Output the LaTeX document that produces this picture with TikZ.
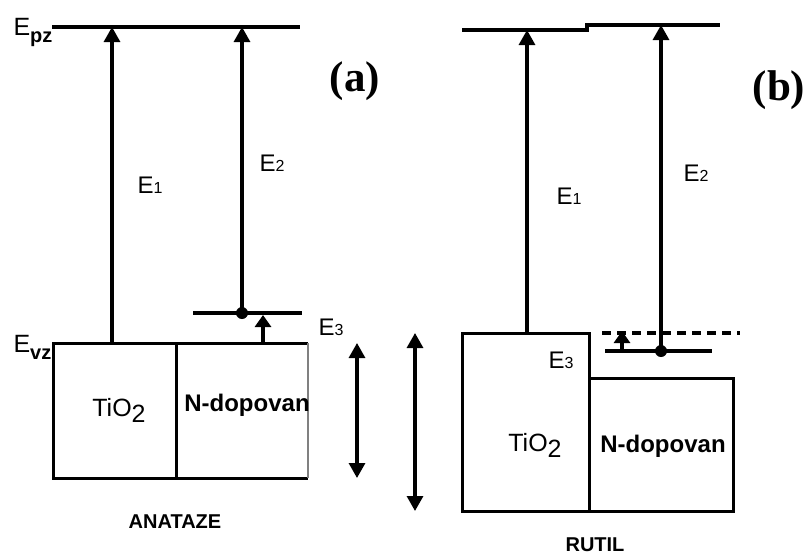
\documentclass[tikz,border=0pt]{standalone}
\usepackage{fontspec}
\setmainfont{Liberation Sans}
\newfontfamily\panelfont{Liberation Serif}
\usetikzlibrary{arrows.meta}

\newcommand{\Elev}[1]{E{\fontsize{16}{16}\selectfont #1}}
\newcommand{\Ebase}[1]{E\raisebox{-7pt}{\fontsize{20}{20}\selectfont\bfseries #1}}

\begin{document}
\begin{tikzpicture}[x=1pt,y=-1pt,>={Triangle[length=15pt,width=16pt]},
		line width=3.1pt]
		\tikzstyle{level}=[line width=3.3pt]
		\tikzstyle{band}=[draw,line width=3pt]
		\tikzstyle{small}=[-{Triangle[length=12pt,width=16pt]}]
		\tikzstyle{lbl}=[inner sep=0pt,font=\fontsize{24}{26}\selectfont]
		\tikzstyle{mat}=[inner sep=0pt,font=\fontsize{25}{27}\selectfont]
		\tikzstyle{dop}=[inner sep=0pt,font=\fontsize{24}{26}\selectfont\bfseries]
		\tikzstyle{phase}=[inner sep=0pt,font=\fontsize{20}{21}\selectfont\bfseries]
		\tikzstyle{tag}=[inner sep=0pt,font=\fontsize{43}{45}\selectfont\panelfont\bfseries]
		
		\useasboundingbox (0,0) rectangle (808,555);
		
		% (a) anataze
		\coordinate (pzl) at (52,27);
		\coordinate (pzr) at (300,27);
		\coordinate (a1t) at (112,27);
		\coordinate (a1b) at (112,343);
		\coordinate (a2t) at (242,27);
		\coordinate (a2b) at (242,313);
		\coordinate (ndl) at (193,313);
		\coordinate (ndr) at (302,313);
		\coordinate (a3b) at (263,343);
		\coordinate (a3t) at (263,315);
		\coordinate (agt) at (357,343);
		\coordinate (agb) at (357,478);
		
		\draw[level] (pzl) -- (pzr);
		\draw[level] (ndl) -- (ndr);
		\draw[band] (53,343) rectangle (176,478);
		\draw[band] (176,343) -- (308,343);
		\draw[band] (176,478) -- (308,478);
		\draw[line width=1.4pt,gray] (308,343) -- (308,478);
		\draw[->] (a1b) -- (a1t);
		\draw[->] (a2b) -- (a2t);
		\draw[small] (a3b) -- (a3t);
		\draw[<->] (agt) -- (agb);
		\fill (a2b) circle (6pt);
		
		\node[lbl,anchor=base west] (epz) at (12,35) {\fontsize{25}{25}\selectfont\Ebase{pz}};
		\node[lbl,anchor=base west] (evz) at (12,352) {\fontsize{25}{25}\selectfont\Ebase{vz}};
		\node[lbl] (ea1) at (150,185) {\Elev{1}};
		\node[lbl] (ea2) at (272,163) {\Elev{2}};
		\node[lbl] (ea3) at (331,327) {\Elev{3}};
		\node[mat] (tia) at (119,410) {TiO\raisebox{-6pt}{2}};
		\node[dop] (nda) at (247,405) {N-dopovan};
		\node[phase] (ana) at (175,522) {ANATAZE};
		\node[tag] (taga) at (355,81) {(a)};
		
		% (b) rutil
		\coordinate (b1t) at (527,30);
		\coordinate (b1b) at (527,333);
		\coordinate (b2t) at (661,25);
		\coordinate (b2b) at (661,351);
		\coordinate (b3b) at (622,351);
		\coordinate (b3t) at (622,331);
		\coordinate (bgt) at (415,333);
		\coordinate (bgb) at (415,511);
		
		\draw[level] (462,30) -- (587,30) -- (587,25) -- (720,25);
		\draw[level,dash pattern=on 9pt off 6pt] (602,333) -- (740,333);
		\draw[level] (605,351) -- (712,351);
		\draw[band] (462,333) rectangle (589,511);
		\draw[band] (589,378) rectangle (733,511);
		\draw[->] (b1b) -- (b1t);
		\draw[->] (b2b) -- (b2t);
		\draw[small] (b3b) -- (b3t);
		\draw[<->] (bgt) -- (bgb);
		\fill (b2b) circle (6pt);
		
		\node[lbl] (eb1) at (569,196) {\Elev{1}};
		\node[lbl] (eb2) at (696,173) {\Elev{2}};
		\node[lbl] (eb3) at (561,360) {\Elev{3}};
		\node[mat] (tib) at (535,445) {TiO\raisebox{-6pt}{2}};
		\node[dop] (ndb) at (663,446) {N-dopovan};
		\node[phase] (rut) at (595,545) {RUTIL};
		\node[tag] (tagb) at (779,90) {(b)};
\end{tikzpicture}
\end{document}
